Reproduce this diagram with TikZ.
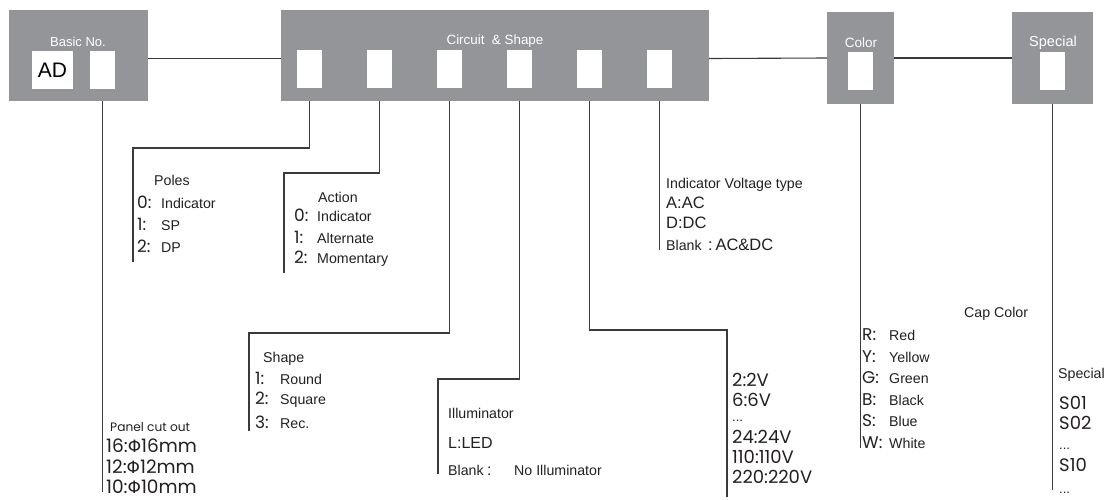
\documentclass[tikz,border=0pt]{standalone}
\usepackage{fontspec}
\setmainfont{Liberation Sans}
\newfontfamily\geo{Poppins}
\newfontfamily\phif{DejaVu Sans}
\definecolor{boxgray}{HTML}{939598}
\definecolor{ink}{HTML}{231F20}
\definecolor{wirec}{HTML}{3A3A3A}
\newcommand{\fs}[1]{\fontsize{#1}{#1}\selectfont}
\newcommand{\kk}[2]{\makebox[#1][l]{\geo\fs{17}#2}}
\tikzset{
 graybox/.style={fill=boxgray, draw=none, anchor=north west, inner sep=0, outer sep=0},
 slot/.style={fill=white, draw=none, anchor=north west, inner sep=0, outer sep=0, minimum width=25pt, minimum height=38pt},
 boxlabel/.style={text=white, font=\fs{13}, inner sep=0},
 wire/.style={draw=wirec, line width=1.1pt},
 lbl/.style={anchor=west, inner sep=0, text=ink, font=\fs{14.2}},
 big/.style={anchor=west, inner sep=0, text=ink, font=\geo\fs{18}},
 mid/.style={anchor=west, inner sep=0, text=ink, font=\fs{16.5}},
 dots/.style={anchor=base west, inner sep=0, text=ink, font=\fs{13}},
}
\begin{document}
\begin{tikzpicture}[x=1pt,y=-1pt]
\useasboundingbox (0,0) rectangle (1110,499);
% boxes
\node[graybox, minimum width=139pt, minimum height=91pt] (basic) at (9,10) {};
\node[graybox, minimum width=428pt, minimum height=91pt] (circ) at (281,10) {};
\node[graybox, minimum width=67pt, minimum height=92pt] (color) at (827,12) {};
\node[graybox, minimum width=81pt, minimum height=92pt] (spec) at (1012,12) {};
% slots
\node[slot, minimum width=41pt] (b1) at (32,51) {};
\node[slot] (b2) at (90,51) {};
\node[slot] (c1) at (297,50) {};
\node[slot] (c2) at (367,50) {};
\node[slot] (c3) at (437,50) {};
\node[slot] (c4) at (507,50) {};
\node[slot] (c5) at (577,50) {};
\node[slot] (c6) at (647,50) {};
\node[slot] (cc) at (848,52) {};
\node[slot] (sc) at (1040,52) {};
% box labels
\node[boxlabel] (tbasic) at (78,42) {Basic No.};
\node[boxlabel, font=\fs{13.4}] (tcirc) at (495,41) {Circuit \ \& Shape};
\node[boxlabel, font=\fs{13.5}] (tcolor) at (861,43) {Color};
\node[boxlabel, font=\fs{14.5}] (tspec) at (1053,43) {Special};
\node[inner sep=0, text=black, font=\fs{21}] (tad) at (b1.center) {AD};
% connections between boxes
\draw[wire] ([yshift=-3pt]basic.east) -- ([yshift=-3pt]circ.west);
\draw[wire] ([yshift=-3pt]circ.east) -- (color.west);
\draw[wire] (color.east) -- (spec.west);
% leader lines
\draw[wire] (b2.center |- basic.south) -- (b2.center |- 0,492);
\draw[wire] (c1.center |- circ.south) |- (133,148) -- (133,262);
\draw[wire] (c2.center |- circ.south) |- (284,173) -- (284,273);
\draw[wire] (c3.center |- circ.south) |- (249,333) -- (249,431);
\draw[wire] (c4.center |- circ.south) |- (438,379) -- (438,474);
\draw[wire] (c5.center |- circ.south) |- (727,330) -- (727,497);
\draw[wire] (c6.center |- circ.south) -- (c6.center |- 0,250);
\draw[wire] (cc.center |- color.south) -- (cc.center |- 0,448);
\draw[wire] (sc.center |- spec.south) -- (sc.center |- 0,490);
% Panel cut out
\node[lbl, font=\geo\fs{12.2}] (pco) at (110,427) {Panel cut out};
\node[big, font=\geo\fs{18.5}] (p16) at (106,446) {16:{\phif\fs{17}Φ}16mm};
\node[big, font=\geo\fs{18.5}] (p12) at (106,467) {12:{\phif\fs{17}Φ}12mm};
\node[big, font=\geo\fs{18.5}] (p10) at (106,487) {10:{\phif\fs{17}Φ}10mm};
% Poles
\node[lbl] (poles) at (154,180) {Poles};
\node[lbl] (po0) at (137,202) {\kk{24pt}{0:}Indicator};
\node[lbl] (po1) at (137,224) {\kk{24pt}{1:}SP};
\node[lbl] (po2) at (137,246) {\kk{24pt}{2:}DP};
% Action
\node[lbl] (action) at (318,197) {Action};
\node[lbl] (ac0) at (294,215) {\kk{23pt}{0:}Indicator};
\node[lbl] (ac1) at (294,237) {\kk{23pt}{1:}Alternate};
\node[lbl] (ac2) at (294,259) {\kk{23pt}{2:}Momentary};
% Shape
\node[lbl] (shape) at (263,359) {Shape};
\node[lbl] (sh1) at (255,378) {\kk{25pt}{1:}Round};
\node[lbl] (sh2) at (255,400) {\kk{25pt}{2:}Square};
\node[lbl] (sh3) at (255,422) {\kk{25pt}{3:}Rec.};
% Illuminator
\node[lbl] (illum) at (448,413) {Illuminator};
\node[mid, font=\fs{16}] (led) at (448,443) {L:LED};
\node[lbl] (il1) at (448,470) {\makebox[39pt][l]{Blank}\makebox[27pt][l]{\fs{16}:}No Illuminator};
% Indicator voltage type
\node[lbl] (ivt) at (666,185) {Indicator Voltage type};
\node[mid] (iva) at (666,203) {A:AC};
\node[mid] (ivd) at (666,223) {D:DC};
\node[lbl] (ivb) at (666,245) {\makebox[42pt][l]{Blank}{\fs{16.5}:\,AC\&DC}};
% voltages
\node[big] (v2) at (732,380) {2:2V};
\node[big] (v6) at (732,400) {6:6V};
\node[dots] (vd) at (732,421) {...};
\node[big] (v24) at (732,437) {24:24V};
\node[big] (v110) at (732,457) {110:110V};
\node[big] (v220) at (732,477) {220:220V};
% cap color
\node[lbl] (capc) at (964,314) {Cap Color};
\node[lbl] (cr) at (862,335) {\kk{27pt}{R:}Red};
\node[lbl] (cy) at (862,357) {\kk{27pt}{Y:}Yellow};
\node[lbl] (cg) at (862,378) {\kk{27pt}{G:}Green};
\node[lbl] (cb) at (862,400) {\kk{27pt}{B:}Black};
\node[lbl] (cs) at (862,421) {\kk{27pt}{S:}Blue};
\node[lbl] (cw) at (862,443) {\kk{27pt}{W:}White};
% special
\node[lbl] (spl) at (1058,375) {Special};
\node[big] (s01) at (1059,403) {S01};
\node[big] (s02) at (1059,423) {S02};
\node[dots] (sd1) at (1059,449) {...};
\node[big] (s10) at (1059,465) {S10};
\node[dots] (sd2) at (1059,493) {...};
\end{tikzpicture}
\end{document}
